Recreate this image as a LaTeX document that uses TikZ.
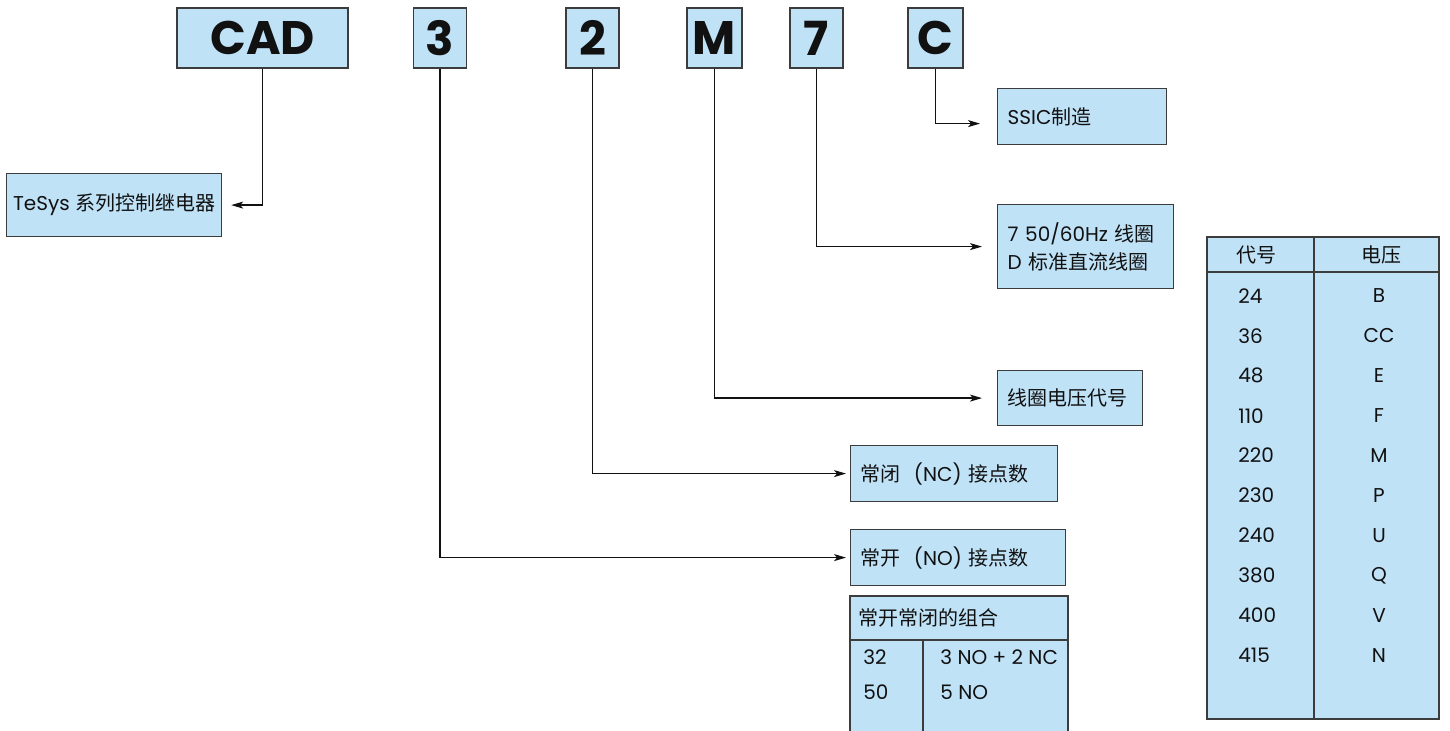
\documentclass[tikz,border=0pt]{standalone}
\usepackage{fontspec}
\setmainfont{Poppins}
\newfontfamily\cjk{Noto Sans CJK SC}
\usetikzlibrary{arrows.meta}
\usepackage{xcolor}
\definecolor{ink}{HTML}{111111}
\definecolor{edge}{HTML}{3C3C3C}
\definecolor{boxfill}{HTML}{C0E2F7}

\begin{document}
\begin{tikzpicture}[x=0.5pt, y=-0.5pt,
  code/.style={draw=edge, fill=boxfill, line width=0.6pt, minimum height=30pt,
               minimum width=26.5pt, inner sep=0pt, text=ink,
               font=\fontsize{23.5}{26}\selectfont\bfseries},
  info/.style={draw=edge, fill=boxfill, line width=0.6pt, anchor=north west, align=left,
               inner xsep=5pt, inner ysep=0pt, text=ink, font=\fontsize{10}{14}\selectfont},
  tbl/.style={draw=edge, fill=boxfill, line width=0.6pt},
  cell/.style={inner sep=0pt, text=ink, font=\fontsize{10}{14}\selectfont},
  arr/.style={-{Stealth[length=6pt, width=3.5pt, inset=1.5pt]}, line width=0.6pt, draw=ink}
]
\clip (0,0) rectangle (1450,731);

\node[code, minimum width=85.5pt] (cad) at (262.5,38) {CAD};
\node[code] (nno) at (440,38) {3};
\node[code] (nnc) at (592.5,38) {2};
\node[code, minimum width=27.5pt] (ncv) at (714.5,38) {M};
\node[code] (ncoil) at (816.5,38) {7};
\node[code, minimum width=27.5pt] (nmfr) at (935.5,38) {C};

\node[info, minimum width=107.5pt, minimum height=31.5pt, inner xsep=2.5pt] (tesys) at (6,173) {TeSys {\cjk 系列控制继电器}};
\node[info, text width=74.5pt, minimum height=28pt] (mfr) at (997,88) {SSIC{\cjk 制造}};
\node[info, text width=78pt, minimum height=42pt] (coil) at (997,204) {7 50/60Hz {\cjk 线圈}\\D {\cjk 标准直流线圈}};
\node[info, text width=62.5pt, minimum height=27.5pt] (volt) at (997,370) {\cjk 线圈电压代号};
\node[info, text width=93.5pt, minimum height=28pt] (nc) at (850,445) {{\cjk 常闭}\ \ (NC) {\cjk 接点数}};
\node[info, text width=97.5pt, minimum height=28pt] (no) at (850,529) {{\cjk 常开}\ \ (NO) {\cjk 接点数}};

\draw[tbl] (850,596) rectangle (1068,745);
\draw[tbl] (850,640) -- (1068,640);
\draw[tbl] (923,640) -- (923,745);
\node[cell, anchor=west] (combo) at (858,618) {\cjk 常开常闭的组合};
\node[cell, anchor=west] (k32) at (863,657) {32};
\node[cell, anchor=west] (k50) at (863,692) {50};
\node[cell, anchor=west] (k32v) at (940,657) {3 NO + 2 NC};
\node[cell, anchor=west] (k50v) at (940,692) {5 NO};

\draw[tbl] (1207,237) rectangle (1439,719);
\draw[tbl] (1207,272) -- (1439,272);
\draw[tbl] (1314,237) -- (1314,719);
\node[cell] (hdcode) at (1256,255) {\cjk 代号};
\node[cell] (hdvolt) at (1381,255) {\cjk 电压};
\foreach \v/\c [count=\i from 0] in {24/B, 36/CC, 48/E, 110/F, 220/M, 230/P, 240/U, 380/Q, 400/V, 415/N} {
  \node[cell, anchor=west] (v\i) at (1238,296+39.9*\i) {\v};
  \node[cell] (c\i) at (1379,296+39.9*\i) {\c};
}

\draw[arr, shorten >=4.5pt] (cad.south) |- (tesys.east);
\draw[arr, shorten >=2pt] (nno.south) |- (no.west);
\draw[arr, shorten >=2pt] (nnc.south) |- (nc.west);
\draw[arr, shorten >=7.5pt] (ncv.south) |- (volt.west);
\draw[arr, shorten >=7.5pt] (ncoil.south) |- (coil.west);
\draw[arr, shorten >=8.5pt] (nmfr.south) |- ([yshift=-3.5pt]mfr.west);
\end{tikzpicture}
\end{document}
